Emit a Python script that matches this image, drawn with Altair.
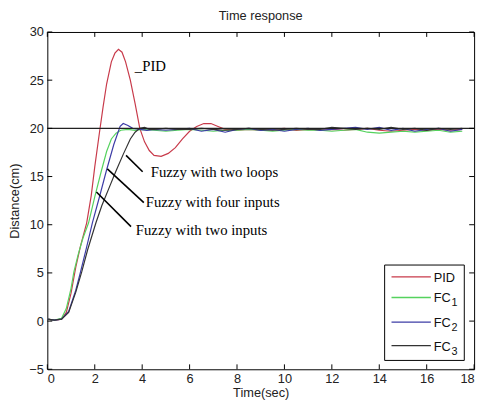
import altair as alt
import pandas as pd

# ---------------- data ----------------
SERIES = ["PID", "FC1", "FC2", "FC3"]
LEG_MAIN = ["PID", "FC", "FC", "FC"]
LEG_SUB = ["", "1", "2", "3"]
COLORS = ["#c83a4a", "#55d25e", "#3c3ca6", "#333333"]

TAIL_T = [4.5, 5.0, 5.5, 6.0, 6.5, 7.0, 7.5, 8.0, 8.5, 9.0, 9.5, 10.0, 10.5, 11.0,
          11.5, 12.0, 12.5, 13.0, 13.5, 14.0, 14.5, 15.0, 15.5, 16.0, 16.5, 17.0, 17.5]

pid_t = [0, 0.3, 0.6, 0.8, 1.0, 1.2, 1.4, 1.66, 1.85, 2.0, 2.2, 2.35, 2.5, 2.7, 2.85,
         3.0, 3.15, 3.3, 3.5, 3.7, 3.9, 4.1, 4.3, 4.5, 4.8, 5.1, 5.4, 5.7, 6.0, 6.3,
         6.6, 6.9, 7.2, 7.5, 8.0, 8.5, 9.0, 9.5, 10.0, 10.5, 11.0, 11.5, 12.0, 12.5,
         13.0, 13.5, 14.0, 14.5, 15.0, 15.5, 16.0, 16.5, 17.0, 17.5]
pid_v = [0.2, 0.1, 0.2, 0.9, 2.9, 5.6, 7.8, 10.2, 13.0, 16.0, 19.6, 22.2, 24.6, 26.9, 27.8,
         28.2, 27.9, 26.9, 25.0, 22.6, 20.0, 18.6, 17.7, 17.2, 17.1, 17.4, 18.0, 18.9, 19.7, 20.2,
         20.5, 20.5, 20.2, 19.9, 19.8, 19.9, 19.8, 19.9, 20.0, 19.8, 19.9, 19.8, 19.9, 19.8,
         19.9, 20.0, 19.8, 19.7, 19.8, 19.9, 19.8, 19.9, 19.8, 19.9]

fc1_t = [0, 0.3, 0.6, 0.8, 1.0, 1.12, 1.3, 1.5, 1.74, 2.0, 2.28, 2.5, 2.7, 2.9, 3.1,
         3.4, 3.7, 4.0] + TAIL_T
fc1_v = [0.2, 0.1, 0.3, 1.3, 3.4, 5.1, 6.9, 8.6, 10.2, 12.9, 15.6, 17.6, 18.9, 19.5, 19.8,
         19.9, 19.8, 19.9,
         19.8, 19.7, 19.8, 19.9, 19.8, 19.7, 19.8, 19.8, 19.9, 19.8, 19.7, 19.8, 19.9, 19.8,
         19.8, 19.7, 19.8, 19.9, 19.6, 19.5, 19.6, 19.7, 19.6, 19.7, 19.8, 19.6, 19.7]

fc2_t = [0, 0.3, 0.6, 0.9, 1.2, 1.4, 1.65, 1.9, 2.2, 2.49, 2.8, 3.07, 3.2, 3.4, 3.6,
         3.9, 4.2] + TAIL_T
fc2_v = [0.2, 0.1, 0.2, 1.0, 3.2, 5.1, 7.6, 10.2, 12.9, 15.6, 18.3, 20.2, 20.5, 20.3, 20.0,
         19.9, 19.8,
         19.9, 19.8, 19.9, 20.0, 19.7, 19.9, 19.6, 19.9, 20.0, 19.8, 19.9, 19.7, 19.9, 20.0,
         19.8, 19.9, 20.0, 20.1, 19.9, 20.1, 19.8, 20.0, 19.7, 19.9, 20.0, 19.7, 19.9]

fc3_t = [0, 0.3, 0.6, 0.9, 1.2, 1.45, 1.7, 2.05, 2.3, 2.6, 2.9, 3.2, 3.5, 3.7, 3.9,
         4.1, 4.3] + TAIL_T
fc3_v = [0.2, 0.1, 0.2, 0.9, 3.0, 5.1, 7.4, 10.2, 12.0, 13.8, 15.6, 17.3, 18.9, 19.6, 20.0,
         20.1, 19.9,
         19.9, 20.0, 19.9, 19.9, 20.0, 19.9, 19.8, 19.9, 20.0, 19.9, 19.8, 19.9, 20.0, 19.9,
         19.9, 20.1, 20.0, 19.9, 20.0, 19.9, 20.1, 19.9, 20.0, 19.8, 20.0, 19.9, 20.0]

REF_LEVEL = [20]

ANN_TEXT = ["_PID", "Fuzzy with two loops", "Fuzzy with four inputs", "Fuzzy with two inputs"]
ANN_T = [3.69, 4.36, 4.15, 3.73]
ANN_V = [26.0, 15.0, 11.8, 8.9]

LEAD_T1 = [3.32, 2.53, 2.07]
LEAD_V1 = [17.2, 15.8, 13.4]
LEAD_T2 = [4.02, 4.07, 3.53]
LEAD_V2 = [15.5, 12.3, 9.8]

X_TICKS = [0, 2, 4, 6, 8, 10, 12, 14, 16, 18]
Y_TICKS = [-5, 0, 5, 10, 15, 20, 25, 30]

# ---------------- build tables ----------------
rows = []
for name, ts, vs in zip(SERIES, [pid_t, fc1_t, fc2_t, fc3_t], [pid_v, fc1_v, fc2_v, fc3_v]):
    for i, (t, v) in enumerate(zip(ts, vs)):
        rows.append({"t": t, "v": v, "series": name, "i": i})
df = pd.DataFrame(rows)

W, H = 434, 343
FONT = "Liberation Sans"
FS = 13


def X(field="t"):
    return alt.X(f"{field}:Q", scale=alt.Scale(domain=[0, 18], nice=False, zero=False),
                 axis=alt.Axis(values=X_TICKS, title="Time(sec)", labelPadding=3,
                               titlePadding=2, format="d"))


def Y(field="v"):
    return alt.Y(f"{field}:Q", scale=alt.Scale(domain=[-5, 30], nice=False, zero=False),
                 axis=alt.Axis(values=Y_TICKS, title="Distance(cm)", labelPadding=4,
                               titlePadding=8, format="d"))


color_scale = alt.Scale(domain=SERIES, range=COLORS)

lines = alt.Chart(df).mark_line(strokeWidth=1.2).encode(
    x=X(), y=Y(),
    order="i:Q",
    color=alt.Color("series:N", scale=color_scale, legend=None),
)

ref = alt.Chart(pd.DataFrame({"v": REF_LEVEL})).mark_rule(color="#222", strokeWidth=1.3).encode(
    y=Y()
)

ann = alt.Chart(pd.DataFrame({"t": ANN_T, "v": ANN_V, "label": ANN_TEXT})).mark_text(
    align="left", baseline="alphabetic", font="Liberation Serif", fontSize=15, color="black"
).encode(x=X(), y=Y(), text="label:N")

lead = alt.Chart(pd.DataFrame({"t": LEAD_T1, "v": LEAD_V1, "t2": LEAD_T2, "v2": LEAD_V2})).mark_rule(
    color="black", strokeWidth=1.6
).encode(x=X(), y=Y(), x2="t2:Q", y2="v2:Q")

xt = pd.DataFrame({"t": X_TICKS})
yt = pd.DataFrame({"v": Y_TICKS})
tick_style = dict(color="black", strokeWidth=1)
xt_bot = alt.Chart(xt).mark_rule(**tick_style).encode(x=X(), y=alt.value(H), y2=alt.value(H - 5))
xt_top = alt.Chart(xt).mark_rule(**tick_style).encode(x=X(), y=alt.value(0), y2=alt.value(5))
yt_left = alt.Chart(yt).mark_rule(**tick_style).encode(y=Y(), x=alt.value(0), x2=alt.value(5))
yt_right = alt.Chart(yt).mark_rule(**tick_style).encode(y=Y(), x=alt.value(W), x2=alt.value(W - 5))

# ---------------- legend box (drawn as marks, MATLAB style) ----------------
LEG_X0, LEG_X1, LEG_Y0, LEG_Y1 = 343, 424, 237, 334
LEG_ROW_Y = [249, 270, 295, 319]
one = pd.DataFrame({"k": [0]})
legend_layers = [
    alt.Chart(one).mark_rect(fill="white", stroke="black", strokeWidth=1).encode(
        x=alt.value(LEG_X0), x2=alt.value(LEG_X1), y=alt.value(LEG_Y0), y2=alt.value(LEG_Y1))
]
for name, main, sub, ry in zip(SERIES, LEG_MAIN, LEG_SUB, LEG_ROW_Y):
    d = pd.DataFrame({"series": [name], "main": [main], "sub": [sub]})
    legend_layers.append(
        alt.Chart(d).mark_rule(strokeWidth=1.3).encode(
            x=alt.value(LEG_X0 + 7), x2=alt.value(LEG_X0 + 47), y=alt.value(ry),
            color=alt.Color("series:N", scale=color_scale, legend=None)))
    legend_layers.append(
        alt.Chart(d).mark_text(align="left", baseline="middle", font=FONT, fontSize=FS,
                               color="#111").encode(
            x=alt.value(LEG_X0 + 50), y=alt.value(ry + 1), text="main:N"))
    if sub:
        legend_layers.append(
            alt.Chart(d).mark_text(align="left", baseline="middle", font=FONT, fontSize=11,
                                   color="#111").encode(
                x=alt.value(LEG_X0 + 68), y=alt.value(ry + 6), text="sub:N"))

chart = alt.layer(lines, ref, lead, ann, xt_bot, xt_top, yt_left, yt_right,
                  *legend_layers).properties(
    width=W, height=H,
    autosize=alt.AutoSizeParams(type="none"),
    padding={"left": 40, "top": 21, "right": 7, "bottom": 37},
    background="white",
    title=alt.TitleParams("Time response", font=FONT, fontSize=FS, fontWeight="normal",
                          color="#222", offset=3, anchor="middle"),
).configure_view(stroke="black", strokeWidth=1).configure_axis(
    grid=False, domain=False, ticks=False,
    labelFont=FONT, labelFontSize=FS, labelColor="#222",
    titleFont=FONT, titleFontSize=FS, titleFontWeight="normal", titleColor="#222",
)

chart.save("out.html", embed_options={"renderer": "svg", "actions": False})
